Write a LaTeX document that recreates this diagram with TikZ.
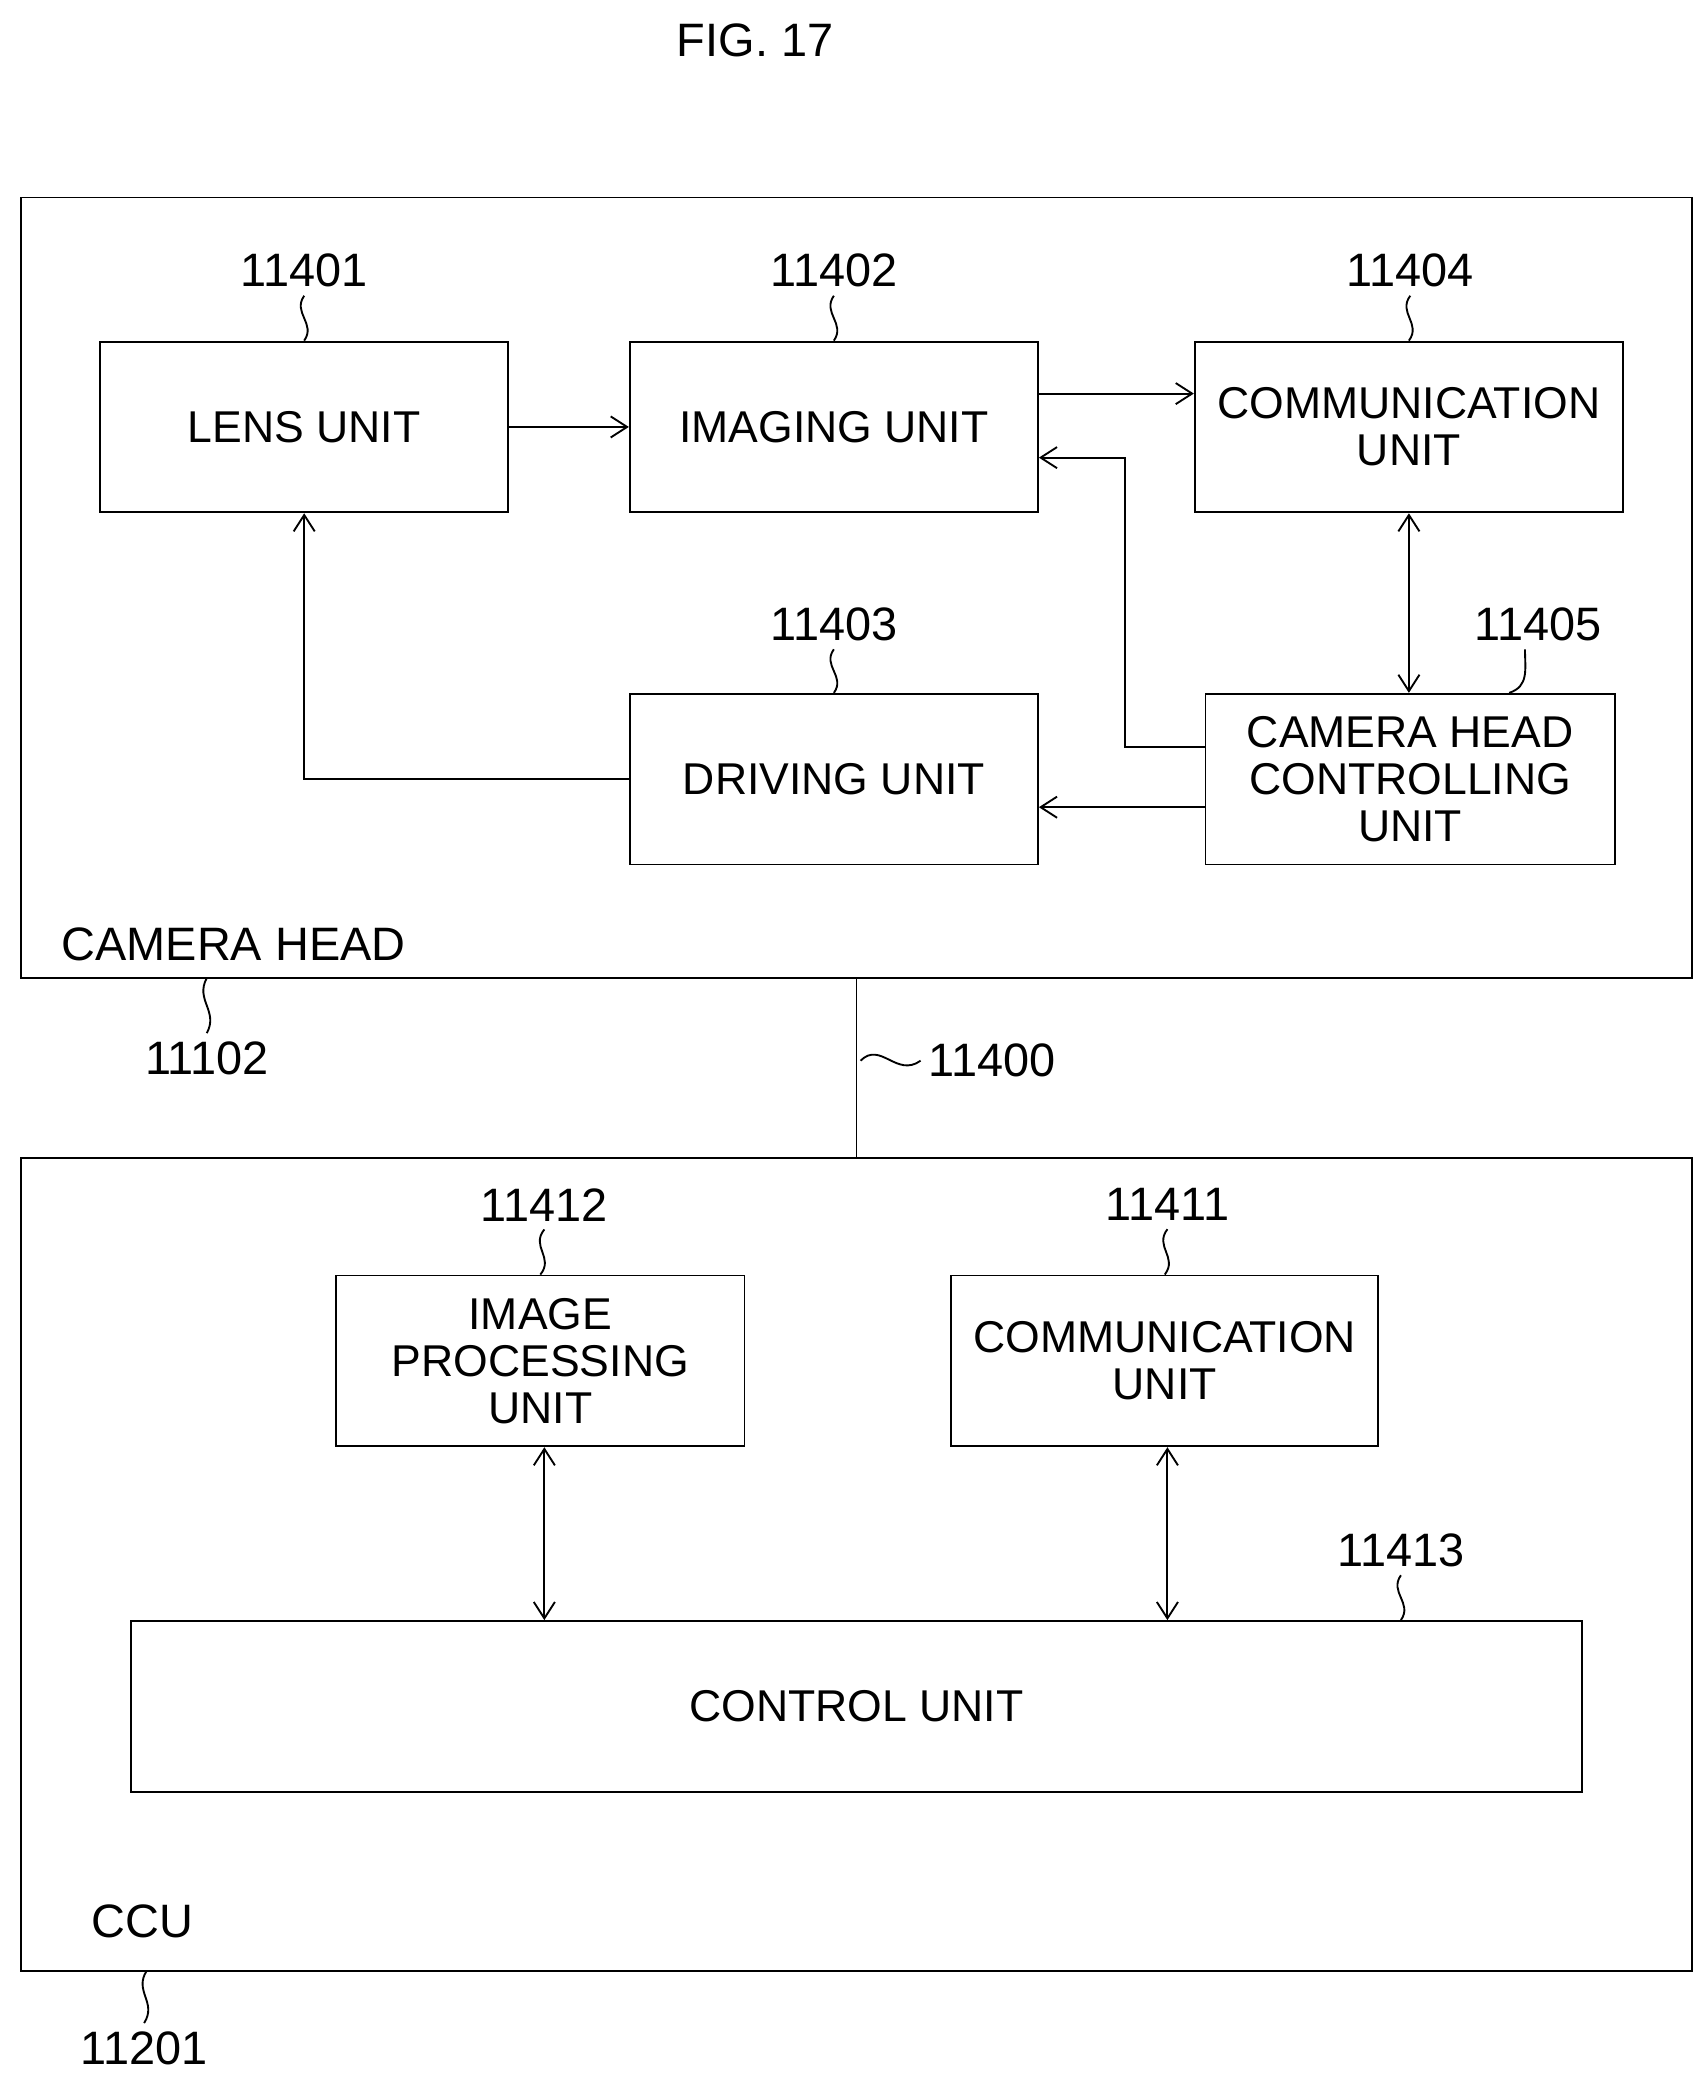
\documentclass[tikz,border=0pt]{standalone}
\usepackage{fontspec}
\setmainfont{Liberation Sans}
\usetikzlibrary{arrows.meta,positioning,calc}
\tikzset{
  unit/.style={draw,thick,minimum width=6.12cm,minimum height=2.56cm,align=center,inner sep=1pt,font=\fontsize{19}{20}\selectfont},
  frame/.style={draw,thick},
  lbl/.style={font=\fontsize{20}{22}\selectfont},
  flow/.style={thick,-{Straight Barb[length=7pt,width=9pt]}},
  both/.style={thick,{Straight Barb[length=7pt,width=9pt]}-{Straight Barb[length=7pt,width=9pt]}},
  lead/.style={thick}
}
\newcommand{\squig}[2]{\draw[lead] (#1) .. controls ($(#1)!0.5!(#2)+(-9,-4)$) and ($(#1)!0.5!(#2)+(9,4)$) .. (#2);}
\begin{document}
\begin{tikzpicture}[x=0.02cm,y=-0.02cm]
        \useasboundingbox (0,0) rectangle (1280,1562);
        \node[lbl] (fig) at (566,30) {FIG. 17};
        % camera head
        \draw[frame] (16,148) rectangle (1268,733);
        \node[unit] (lens) at (228,320) {LENS UNIT};
        \node[unit] (imaging) at (625,320) {IMAGING UNIT};
        \node[unit,minimum width=6.42cm] (comm) at (1056,320) {COMMUNICATION\\UNIT};
        \node[unit] (driving) at (625,584) {DRIVING UNIT};
        \node[unit,minimum width=6.14cm] (chcu) at (1057,584) {CAMERA HEAD\\CONTROLLING\\UNIT};
        \node[lbl] (n11401) at (228,203) {11401};
        \node[lbl] (n11402) at (625,203) {11402};
        \node[lbl] (n11404) at (1057,203) {11404};
        \node[lbl] (n11403) at (625,468) {11403};
        \node[lbl] (n11405) at (1153,468) {11405};
        \squig{n11401.south}{lens.north}
        \squig{n11402.south}{imaging.north}
        \squig{n11404.south}{comm.north}
        \squig{n11403.south}{driving.north}
        \draw[lead] ($(n11405.south)+(-10,0)$) .. controls +(0,15) and +(15,-5) .. ($(chcu.north east)+(-80,0)$);
        \draw[flow] (lens.east) -- (imaging.west);
        \draw[flow] (imaging.east |- 0,295) -- (comm.west |- 0,295);
        \draw[flow] (chcu.west |- 0,560) -| (843,343) -- (imaging.east |- 0,343);
        \draw[flow] (chcu.west |- 0,605) -- (driving.east |- 0,605);
        \draw[flow] (driving.west) -| (lens.south);
        \draw[both] (comm.south) -- (chcu.north -| comm.south);
        \node[lbl,anchor=west] (chlabel) at (40,708) {CAMERA HEAD};
        \coordinate (chbot) at (155,733);
        \node[lbl] (n11102) at (155,793) {11102};
        \squig{chbot}{n11102.north}
        % transmission cable
        \coordinate (cabtop) at (642,733);
        \coordinate (cabbot) at (642,868);
        \draw[lead] (cabtop) -- (cabbot);
        \node[lbl,anchor=west] (n11400) at (690,795) {11400};
        \draw[lead] (645,795) .. controls (660,780) and (672,808) .. (n11400.west);
        % CCU
        \draw[frame] (16,868) rectangle (1268,1477);
        \node[unit] (improc) at (405,1020) {IMAGE\\PROCESSING\\UNIT};
        \node[unit,minimum width=6.4cm] (comm2) at (873,1020) {COMMUNICATION\\UNIT};
        \node[unit,minimum width=21.76cm] (control) at (642,1279) {CONTROL UNIT};
        \node[lbl] (n11412) at (408,903) {11412};
        \node[lbl] (n11411) at (875,903) {11411};
        \node[lbl] (n11413) at (1050,1162) {11413};
        \squig{n11412.south}{improc.north}
        \squig{n11411.south}{comm2.north}
        \squig{n11413.south}{control.north -| n11413.south}
        \draw[both] (improc.south -| 408,0) -- (control.north -| 408,0);
        \draw[both] (comm2.south -| 875,0) -- (control.north -| 875,0);
        \node[lbl] (ccu) at (107,1440) {CCU};
        \coordinate (ccubot) at (110,1477);
        \node[lbl] (n11201) at (108,1535) {11201};
        \squig{ccubot}{n11201.north}
\end{tikzpicture}
\end{document}
